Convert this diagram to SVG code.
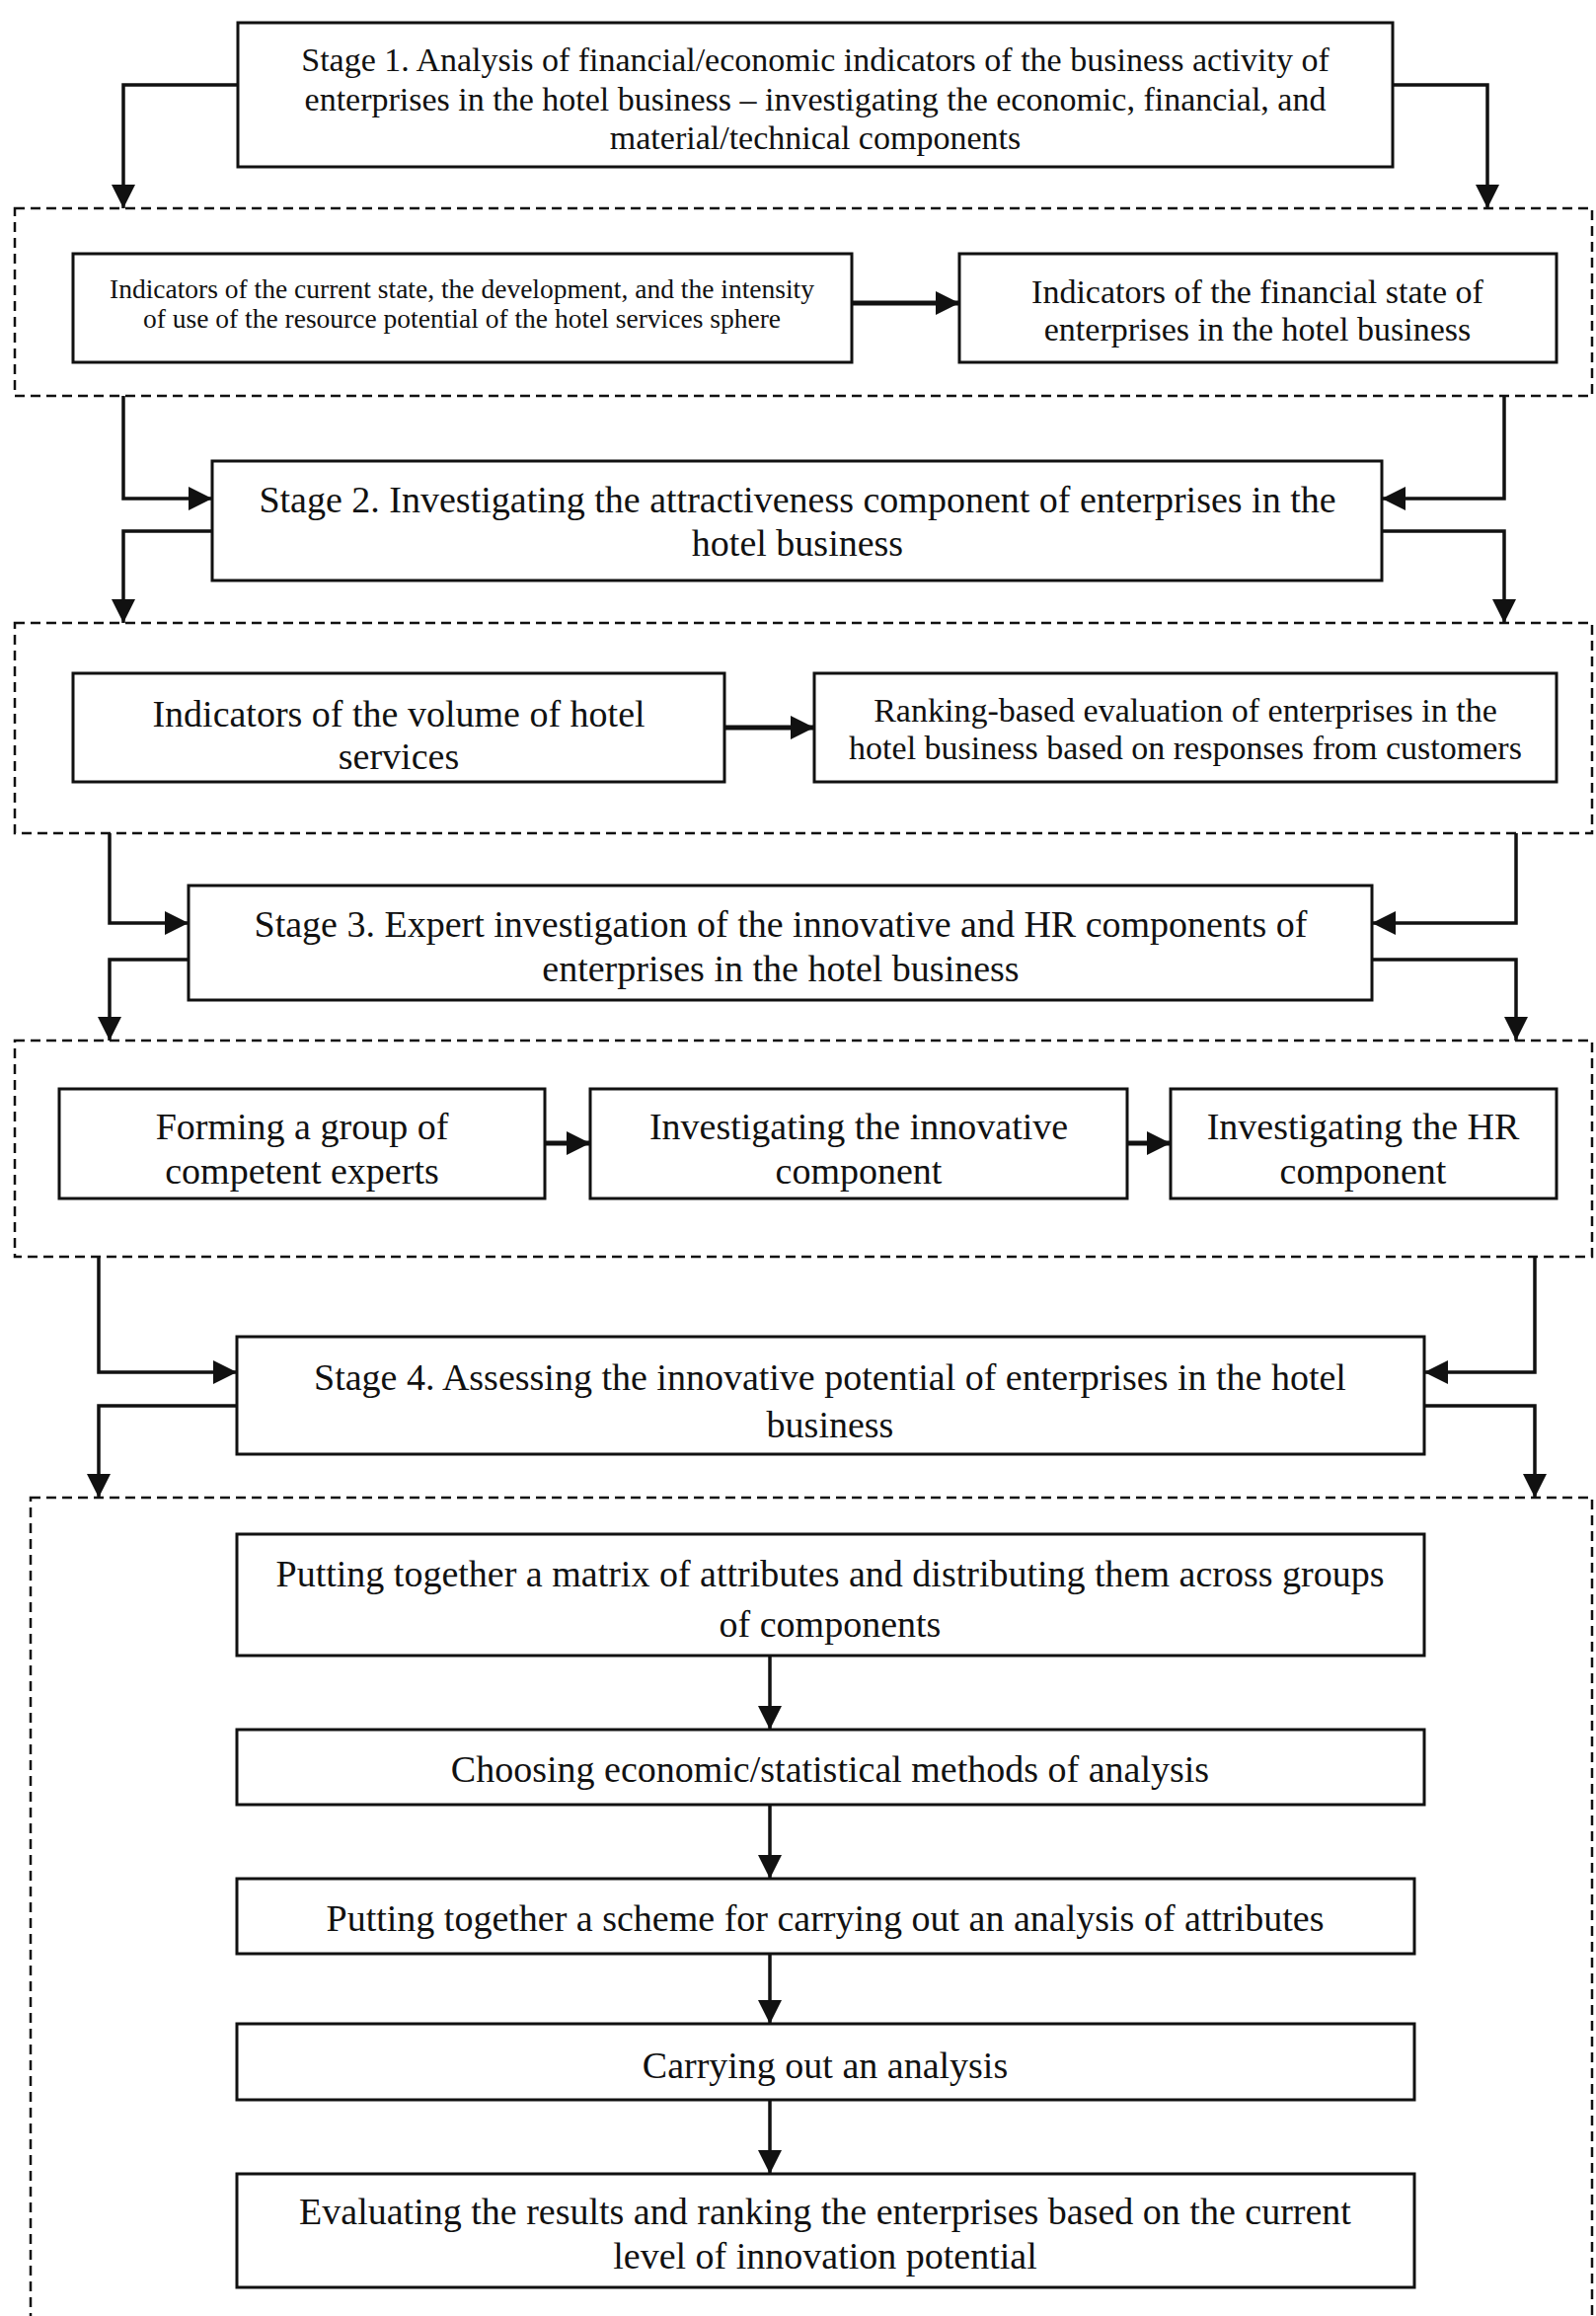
<svg xmlns="http://www.w3.org/2000/svg" width="1617" height="2346" viewBox="0 0 1617 2346">
<style>
.box{fill:#fff;stroke:#111;stroke-width:3}
.dash{fill:none;stroke:#111;stroke-width:2.5;stroke-dasharray:10 6}
.t{font-family:"Liberation Serif","Times New Roman",serif;fill:#111;text-anchor:middle}
.f38{font-size:38px}
.f34{font-size:34px}
.f27{font-size:27.5px}
.con{fill:none;stroke:#111;stroke-width:3.5}
.thick{fill:none;stroke:#111;stroke-width:5}
</style>
<defs>
<marker id="ah" markerUnits="userSpaceOnUse" viewBox="0 0 24 24" markerWidth="24" markerHeight="24" refX="24" refY="12" orient="auto">
<path d="M0,0 L24,12 L0,24 Z" fill="#111"/>
</marker>
</defs>
<rect width="1617" height="2346" fill="#fff"/>

<g id="groups">
<rect id="group1" class="dash" x="15" y="211" width="1598" height="190"/>
<rect id="group2" class="dash" x="15" y="631" width="1598" height="213"/>
<rect id="group3" class="dash" x="15" y="1054" width="1598" height="219"/>
<rect id="group4" class="dash" x="31" y="1517" width="1582" height="900"/>
</g>

<g id="connectors">
<path class="con" d="M241,86 H125 V211" marker-end="url(#ah)"/>
<path class="con" d="M1411,86 H1507 V211" marker-end="url(#ah)"/>
<path class="con" d="M125,401 V505 H215" marker-end="url(#ah)"/>
<path class="con" d="M1524,401 V505 H1400" marker-end="url(#ah)"/>
<path class="con" d="M215,538 H125 V631" marker-end="url(#ah)"/>
<path class="con" d="M1400,538 H1524 V631" marker-end="url(#ah)"/>
<path class="con" d="M111,844 V935 H191" marker-end="url(#ah)"/>
<path class="con" d="M1536,844 V935 H1390" marker-end="url(#ah)"/>
<path class="con" d="M191,972 H111 V1054" marker-end="url(#ah)"/>
<path class="con" d="M1390,972 H1536 V1054" marker-end="url(#ah)"/>
<path class="con" d="M100,1273 V1390 H240" marker-end="url(#ah)"/>
<path class="con" d="M1555,1273 V1390 H1443" marker-end="url(#ah)"/>
<path class="con" d="M240,1424 H100 V1517" marker-end="url(#ah)"/>
<path class="con" d="M1443,1424 H1555 V1517" marker-end="url(#ah)"/>
<path class="thick" d="M863,307 H972" marker-end="url(#ah)"/>
<path class="thick" d="M734,737 H825" marker-end="url(#ah)"/>
<path class="thick" d="M552,1158 H598" marker-end="url(#ah)"/>
<path class="thick" d="M1142,1158 H1186" marker-end="url(#ah)"/>
<path class="con" d="M780,1677 V1752" marker-end="url(#ah)"/>
<path class="con" d="M780,1828 V1903" marker-end="url(#ah)"/>
<path class="con" d="M780,1979 V2050" marker-end="url(#ah)"/>
<path class="con" d="M780,2127 V2202" marker-end="url(#ah)"/>
</g>

<g id="stage1">
<rect class="box" x="241" y="23" width="1170" height="146"/>
<text class="t f34" x="826" y="72">Stage 1. Analysis of financial/economic indicators of the business activity of</text>
<text class="t f34" x="826" y="112">enterprises in the hotel business – investigating the economic, financial, and</text>
<text class="t f34" x="826" y="151">material/technical components</text>
</g>

<g id="ind-current">
<rect class="box" x="74" y="257" width="789" height="110"/>
<text class="t f27" x="468" y="302">Indicators of the current state, the development, and the intensity</text>
<text class="t f27" x="468" y="332">of use of the resource potential of the hotel services sphere</text>
</g>

<g id="ind-financial">
<rect class="box" x="972" y="257" width="605" height="110"/>
<text class="t f34" x="1274" y="307">Indicators of the financial state of</text>
<text class="t f34" x="1274" y="345">enterprises in the hotel business</text>
</g>

<g id="stage2">
<rect class="box" x="215" y="467" width="1185" height="121"/>
<text class="t f38" x="808" y="519">Stage 2. Investigating the attractiveness component of enterprises in the</text>
<text class="t f38" x="808" y="563">hotel business</text>
</g>

<g id="ind-volume">
<rect class="box" x="74" y="682" width="660" height="110"/>
<text class="t f38" x="404" y="736">Indicators of the volume of hotel</text>
<text class="t f38" x="404" y="779">services</text>
</g>

<g id="ranking">
<rect class="box" x="825" y="682" width="752" height="110"/>
<text class="t f34" x="1201" y="731">Ranking-based evaluation of enterprises in the</text>
<text class="t f34" x="1201" y="769">hotel business based on responses from customers</text>
</g>

<g id="stage3">
<rect class="box" x="191" y="897" width="1199" height="116"/>
<text class="t f38" x="791" y="949">Stage 3. Expert investigation of the innovative and HR components of</text>
<text class="t f38" x="791" y="994">enterprises in the hotel business</text>
</g>

<g id="experts">
<rect class="box" x="60" y="1103" width="492" height="111"/>
<text class="t f38" x="306" y="1154">Forming a group of</text>
<text class="t f38" x="306" y="1199">competent experts</text>
</g>

<g id="innovative">
<rect class="box" x="598" y="1103" width="544" height="111"/>
<text class="t f38" x="870" y="1154">Investigating the innovative</text>
<text class="t f38" x="870" y="1199">component</text>
</g>

<g id="hr">
<rect class="box" x="1186" y="1103" width="391" height="111"/>
<text class="t f38" x="1381" y="1154">Investigating the HR</text>
<text class="t f38" x="1381" y="1199">component</text>
</g>

<g id="stage4">
<rect class="box" x="240" y="1354" width="1203" height="119"/>
<text class="t f38" x="841" y="1408">Stage 4. Assessing the innovative potential of enterprises in the hotel</text>
<text class="t f38" x="841" y="1456">business</text>
</g>

<g id="matrix">
<rect class="box" x="240" y="1554" width="1203" height="123"/>
<text class="t f38" x="841" y="1607">Putting together a matrix of attributes and distributing them across groups</text>
<text class="t f38" x="841" y="1658">of components</text>
</g>

<g id="methods">
<rect class="box" x="240" y="1752" width="1203" height="76"/>
<text class="t f38" x="841" y="1805">Choosing economic/statistical methods of analysis</text>
</g>

<g id="scheme">
<rect class="box" x="240" y="1903" width="1193" height="76"/>
<text class="t f38" x="836" y="1956">Putting together a scheme for carrying out an analysis of attributes</text>
</g>

<g id="analysis">
<rect class="box" x="240" y="2050" width="1193" height="77"/>
<text class="t f38" x="836" y="2105">Carrying out an analysis</text>
</g>

<g id="evaluation">
<rect class="box" x="240" y="2202" width="1193" height="115"/>
<text class="t f38" x="836" y="2253">Evaluating the results and ranking the enterprises based on the current</text>
<text class="t f38" x="836" y="2298">level of innovation potential</text>
</g>
</svg>
